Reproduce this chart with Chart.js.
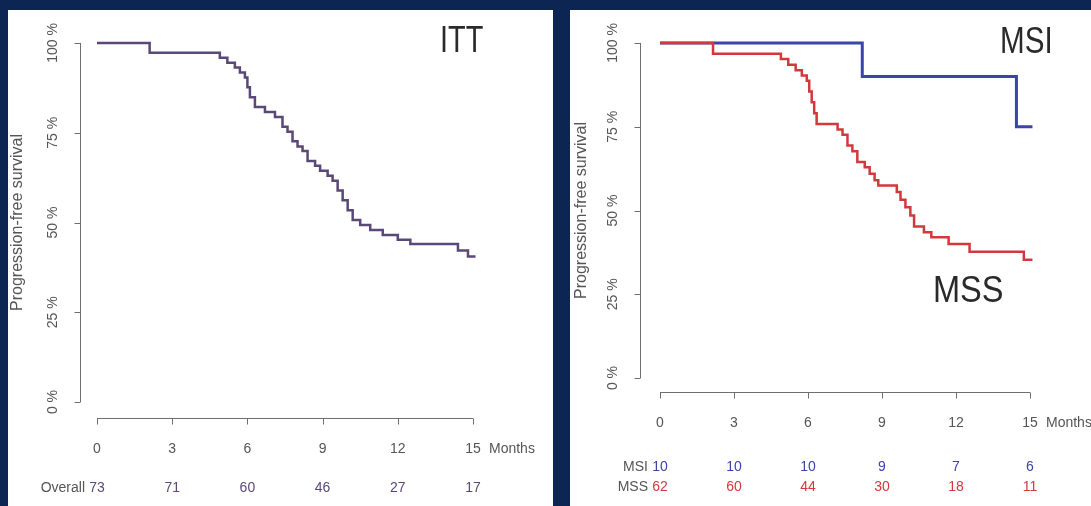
<!DOCTYPE html>
<html>
<head>
<meta charset="utf-8">
<script src="https://cdn.jsdelivr.net/npm/chart.js@4.4.0/dist/chart.umd.min.js"></script>
<style>
  html, body { margin: 0; padding: 0; }
  body { width: 1091px; height: 506px; background: #0c2553; position: relative; overflow: hidden; }
  .panel { position: absolute; background: #fff; }
  .panel canvas { display: block; }
  #left-panel { left: 8px; top: 10px; width: 545px; height: 496px; }
  #right-panel { left: 570px; top: 10px; width: 521px; height: 496px; }
</style>
</head>
<body>
<div class="panel" id="left-panel"><canvas id="itt-chart" width="545" height="496"></canvas></div>
<div class="panel" id="right-panel"><canvas id="msi-chart" width="521" height="496"></canvas></div>
<script>
// ---- dados ----
const monthTicks = [0, 3, 6, 9, 12, 15];
const pctTicks = [0, 25, 50, 75, 100];

const ittMonths = [0, 2.1, 4.9, 5.2, 5.5, 5.7, 5.9, 6.0, 6.1, 6.3, 6.7, 7.1, 7.4, 7.6, 7.8, 8.0, 8.2, 8.4, 8.7, 8.9, 9.2, 9.4, 9.6, 9.8, 10.0, 10.2, 10.5, 10.9, 11.4, 12.0, 12.5, 14.4, 14.8, 15.1];
const ittSurv = [100, 97.3, 95.9, 94.5, 93.2, 91.8, 90.4, 87.7, 84.9, 82.2, 80.8, 79.4, 76.7, 75.3, 72.6, 71.2, 69.9, 67.1, 65.8, 64.4, 63.0, 61.6, 58.9, 56.2, 53.4, 50.7, 49.3, 47.9, 46.5, 45.2, 44.0, 42.2, 40.5, 40.5];

const msiMonths = [0, 8.2, 14.45, 15.1];
const msiSurv = [100, 90, 75, 75];

const mssMonths = [0, 2.15, 4.9, 5.2, 5.5, 5.75, 5.95, 6.05, 6.15, 6.25, 6.35, 7.2, 7.4, 7.6, 7.8, 8.0, 8.3, 8.5, 8.7, 8.85, 9.6, 9.75, 9.95, 10.15, 10.3, 10.7, 11.0, 11.7, 12.55, 14.75, 15.1];
const mssSurv = [100, 96.8, 95.2, 93.5, 91.9, 90.3, 88.7, 85.5, 82.3, 79.0, 75.8, 74.2, 72.6, 69.4, 67.7, 64.5, 62.9, 61.0, 59.0, 57.5, 55.5, 53.2, 51.0, 48.5, 45.2, 43.5, 42.0, 40.0, 37.7, 35.3, 35.3];

const overallAtRisk = [73, 71, 60, 46, 27, 17];
const msiAtRisk = [10, 10, 10, 9, 7, 6];
const mssAtRisk = [62, 60, 44, 30, 18, 11];

const ITT_COLOR = '#5a4878';
const MSI_COLOR = '#3b44a8';
const MSS_COLOR = '#d2383c';
const FONT = '"Liberation Sans", Arial, sans-serif';

// ---- helpers ----
function toPoints(months, surv) {
  return months.map((m, i) => ({ x: m, y: surv[i] }));
}

function curve(months, surv, color, width) {
  return {
    data: toPoints(months, surv),
    borderColor: color,
    borderWidth: width,
    stepped: 'before',
    pointRadius: 0,
    fill: false,
    clip: false
  };
}

function vText(ctx, text, x, y, size, color) {
  ctx.save();
  ctx.translate(x, y);
  ctx.rotate(-Math.PI / 2);
  ctx.font = size + 'px ' + FONT;
  ctx.fillStyle = color;
  ctx.textAlign = 'center';
  ctx.textBaseline = 'middle';
  ctx.fillText(text, 0, 0);
  ctx.restore();
}

function hText(ctx, text, x, y, size, color, align, squeeze) {
  ctx.save();
  ctx.translate(x, y);
  if (squeeze) ctx.scale(squeeze, 1);
  ctx.font = size + 'px ' + FONT;
  ctx.fillStyle = color;
  ctx.textAlign = align || 'center';
  ctx.textBaseline = 'middle';
  ctx.fillText(text, 0, 0);
  ctx.restore();
}

// eixos no estilo R (destacados da área do gráfico) + tabela de risco
function decorPlugin(d) {
  return {
    id: 'kmDecor',
    afterDraw(chart) {
      const { ctx, scales: { x, y } } = chart;
      const axisX = Math.round(x.left - d.yGap) + 0.5;
      const axisY = Math.round(y.bottom + d.xGap) + 0.5;

      ctx.save();
      ctx.strokeStyle = '#6f6f6f';
      ctx.lineWidth = 1;
      ctx.beginPath();
      ctx.moveTo(axisX, y.getPixelForValue(pctTicks[0]));
      ctx.lineTo(axisX, y.getPixelForValue(pctTicks[pctTicks.length - 1]));
      pctTicks.forEach(v => {
        const py = Math.round(y.getPixelForValue(v)) + 0.5;
        ctx.moveTo(axisX, py);
        ctx.lineTo(axisX - 6, py);
      });
      ctx.moveTo(x.getPixelForValue(monthTicks[0]), axisY);
      ctx.lineTo(x.getPixelForValue(monthTicks[monthTicks.length - 1]), axisY);
      monthTicks.forEach(v => {
        const px = Math.round(x.getPixelForValue(v)) + 0.5;
        ctx.moveTo(px, axisY);
        ctx.lineTo(px, axisY + 6);
      });
      ctx.stroke();
      ctx.restore();

      pctTicks.forEach(v => vText(ctx, v + ' %', axisX - 27, y.getPixelForValue(v), 14, '#555'));
      vText(ctx, 'Progression-free survival', d.titleX, (y.top + y.bottom) / 2, 16, '#555');

      monthTicks.forEach(v => hText(ctx, String(v), x.getPixelForValue(v), axisY + 31, 14, '#555'));
      hText(ctx, 'Months', x.getPixelForValue(15) + 16, axisY + 31, 14, '#555', 'left');

      d.riskRows.forEach(row => {
        hText(ctx, row.label, x.left - 12, row.y, 14, '#555', 'right');
        row.values.forEach((n, i) => hText(ctx, String(n), x.getPixelForValue(monthTicks[i]), row.y, 14, row.color));
      });

      d.bigLabels.forEach(b => hText(ctx, b.text, b.x, b.y, 37, '#2a2a2a', 'left', b.squeeze));
    }
  };
}

function kmChart(canvasId, datasets, deco) {
  return new Chart(document.getElementById(canvasId), {
    type: 'line',
    data: { datasets },
    options: {
      responsive: false,
      animation: false,
      layout: { padding: deco.padding },
      plugins: { legend: { display: false }, tooltip: { enabled: false } },
      scales: {
        x: { type: 'linear', min: 0, max: 15, display: false },
        y: { type: 'linear', min: 0, max: 100, display: false }
      }
    },
    plugins: [decorPlugin(deco)]
  });
}

// ---- painel ITT ----
kmChart('itt-chart', [curve(ittMonths, ittSurv, ITT_COLOR, 2.5)], {
  padding: { left: 89, right: 80, top: 33, bottom: 104 },
  yGap: 17, xGap: 16, titleX: 10,
  riskRows: [{ label: 'Overall', values: overallAtRisk, color: ITT_COLOR, y: 478 }],
  bigLabels: [{ text: 'ITT', x: 432, y: 32, squeeze: 0.78 }]
});

// ---- painel MSI / MSS ----
kmChart('msi-chart', [
  curve(mssMonths, mssSurv, MSS_COLOR, 2.5),
  curve(msiMonths, msiSurv, MSI_COLOR, 3)
], {
  padding: { left: 90, right: 61, top: 33, bottom: 128 },
  yGap: 20, xGap: 14, titleX: 12,
  riskRows: [
    { label: 'MSI', values: msiAtRisk, color: MSI_COLOR, y: 457 },
    { label: 'MSS', values: mssAtRisk, color: MSS_COLOR, y: 477 }
  ],
  bigLabels: [
    { text: 'MSI', x: 430, y: 33, squeeze: 0.8 },
    { text: 'MSS', x: 363, y: 282, squeeze: 0.88 }
  ]
});
</script>
</body>
</html>
